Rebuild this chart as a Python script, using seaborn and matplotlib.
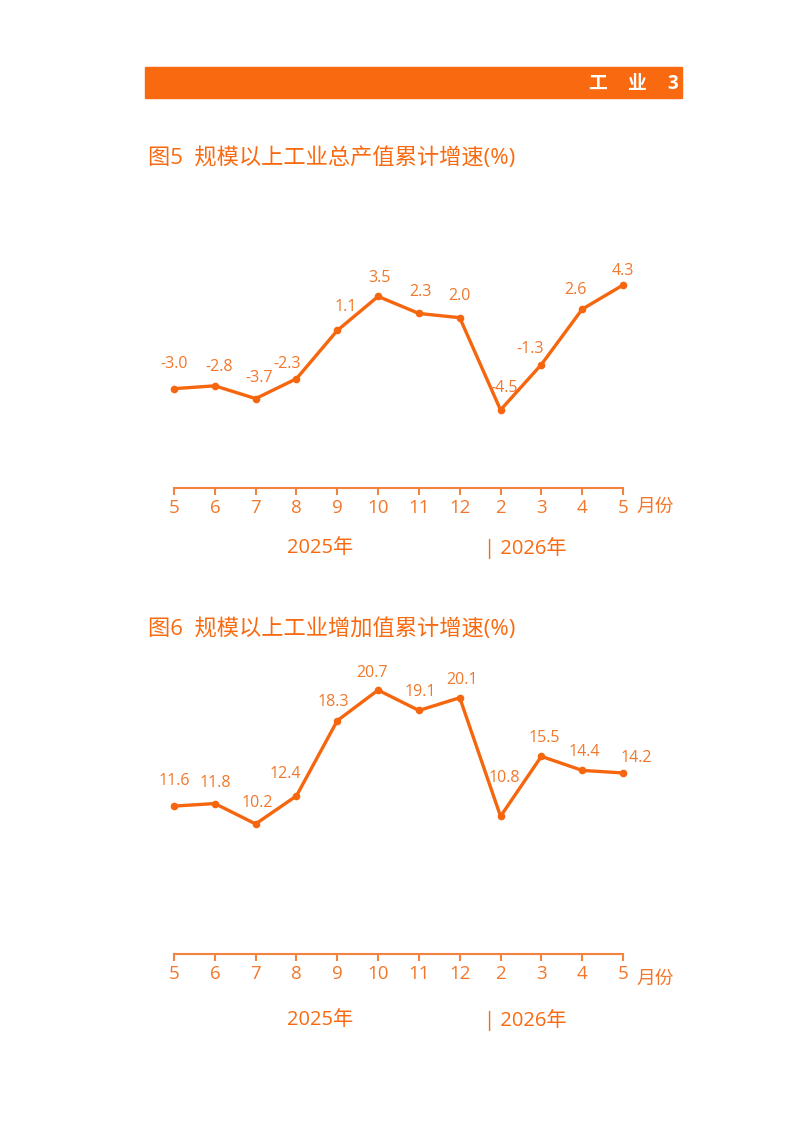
import matplotlib
matplotlib.use('Agg')
import matplotlib.pyplot as plt
from matplotlib.patches import Rectangle
import numpy as np
import seaborn as sns

# data
months = ['5', '6', '7', '8', '9', '10', '11', '12', '2', '3', '4', '5']
output_growth = [-3.0, -2.8, -3.7, -2.3, 1.1, 3.5, 2.3, 2.0, -4.5, -1.3, 2.6, 4.3]
added_growth = [11.6, 11.8, 10.2, 12.4, 18.3, 20.7, 19.1, 20.1, 10.8, 15.5, 14.4, 14.2]
year_labels = ['2025年', '| 2026年']

# label offsets in pixels (dx, dy) read from the page
off1 = [(0, 25), (4, 19), (3, 21), (-9, 15), (8, 23), (1, 18),
        (2, 21), (0, 22), (4, 22), (-11, 16), (-7, 19), (0, 14)]
off2 = [(0, 25), (0, 21), (2, 21), (-11, 22), (-4, 19), (-6, 17),
        (1, 18), (2, 18), (4, 38), (3, 18), (2, 18), (13, 15)]

sns.set_style('white')
plt.rcParams['font.family'] = ['Open Sans', 'Noto Sans CJK SC', 'DejaVu Sans']

ORANGE = '#F96A10'
LINE = '#F5660E'
TXT = '#F2772A'
AXC = '#F3843F'

W, H = 794, 1123
fig = plt.figure(figsize=(W / 100, H / 100), dpi=100)


def fx(px):
    return px / W


def fy(py):
    return 1 - py / H


# header bar
fig.patches.append(Rectangle((fx(145), fy(98)), fx(682) - fx(145), fy(67) - fy(98),
                             transform=fig.transFigure, color=ORANGE, zorder=0))
for s, x in [('工', 598), ('业', 637), ('3', 673)]:
    fig.text(fx(x), fy(84), s, color='white', fontsize=13.5, fontweight='bold',
             ha='center', va='center')


def draw(ax, vals, offs, ylim, title, title_y, year_y):
    pos = np.arange(len(vals))
    sns.lineplot(x=pos, y=vals, ax=ax, color=LINE, lw=2.4, marker='o',
                 markersize=5.5, markeredgewidth=0, markerfacecolor=LINE,
                 clip_on=False)
    for x, v, (dx, dy) in zip(pos, vals, offs):
        ax.annotate(f'{v:.1f}', (x, v), xytext=(dx, dy), textcoords='offset pixels',
                    ha='center', va='center', fontsize=11.5, color=TXT)
    ax.set_xlim(0, len(vals) - 1)
    ax.set_ylim(*ylim)
    ax.set_yticks([])
    ax.set_xticks(pos)
    ax.set_xticklabels(months)
    for sp in ['top', 'left', 'right']:
        ax.spines[sp].set_visible(False)
    ax.spines['bottom'].set_color(AXC)
    ax.spines['bottom'].set_linewidth(1.5)
    ax.tick_params(axis='x', direction='out', length=5, width=1.5, color=AXC,
                   labelcolor=TXT, labelsize=13.5, pad=3, bottom=True)
    ax.patch.set_alpha(0)
    fig.text(fx(148), fy(title_y), title, color=ORANGE, fontsize=16,
             ha='left', va='center')
    fig.text(fx(655), fy(year_y - 41), '月份', color=TXT, fontsize=13.5,
             ha='center', va='center')
    fig.text(fx(320), fy(year_y), year_labels[0], color=ORANGE, fontsize=14.5,
             ha='center', va='center')
    fig.text(fx(484), fy(year_y), year_labels[1], color=ORANGE, fontsize=14.5,
             ha='left', va='center')


ax1 = fig.add_axes([fx(174), fy(488), fx(623) - fx(174), fy(175.8) - fy(488)])
draw(ax1, output_growth, off1, (-10, 12), '图5  规模以上工业总产值累计增速(%)', 158, 548)

ax2 = fig.add_axes([fx(174), fy(954), fx(623) - fx(174), fy(648) - fy(954)])
draw(ax2, added_growth, off2, (0, 24), '图6  规模以上工业增加值累计增速(%)', 629, 1020)

fig.savefig('out.png', dpi=100, facecolor='white')
